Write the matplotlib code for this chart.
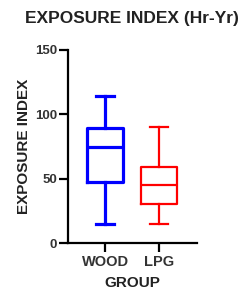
import matplotlib.pyplot as plt

groups = ['WOOD', 'LPG']
colors = ['#0000ff', '#ff0000']
whislo = [15, 15]
q1 = [47.5, 30.5]
med = [75, 45]
q3 = [89, 59]
whishi = [114, 90]

plt.rcParams['font.family'] = ['Liberation Sans', 'DejaVu Sans']
plt.rcParams['font.weight'] = 'bold'

fig = plt.figure(figsize=(2.45, 2.9), dpi=100)
ax = fig.add_axes([68/245, 47/290, 129/245, 193/290])

stats = []
for i in range(len(groups)):
    stats.append({'label': groups[i], 'whislo': whislo[i], 'q1': q1[i],
                  'med': med[i], 'q3': q3[i], 'whishi': whishi[i], 'fliers': []})

lws = [2.3, 1.6]
for i, s in enumerate(stats):
    c = colors[i]
    lw = lws[i]
    ax.bxp([s], positions=[i + 1], widths=0.67, capwidths=0.34, showfliers=False,
           boxprops=dict(color=c, linewidth=lw),
           whiskerprops=dict(color=c, linewidth=lw),
           capprops=dict(color=c, linewidth=lw),
           medianprops=dict(color=c, linewidth=lw))

ax.set_xlim(0.31, 2.70)
ax.set_ylim(0, 150)
ax.set_yticks([0, 50, 100, 150])
ax.set_xticks([1, 2])
ax.set_xticklabels(groups)
for sp in ['top', 'right']:
    ax.spines[sp].set_visible(False)
for sp in ['left', 'bottom']:
    ax.spines[sp].set_linewidth(1.6)
ax.tick_params(width=1.6, length=6.5, labelsize=9.5, color='black',
               labelcolor='#333333', pad=1.5)
ax.tick_params(axis='x', labelsize=10.5, pad=2.5)
ax.set_ylabel('EXPOSURE INDEX', fontsize=11, fontweight='bold', color='#222222', labelpad=3)
ax.set_xlabel('GROUP', fontsize=11, fontweight='bold', color='#222222', labelpad=5)
fig.text(0.54, 0.935, 'EXPOSURE INDEX (Hr-Yr)', ha='center', va='center', fontsize=12.5,
         fontweight='bold', color='#222222')

fig.savefig('out.png', dpi=100)
